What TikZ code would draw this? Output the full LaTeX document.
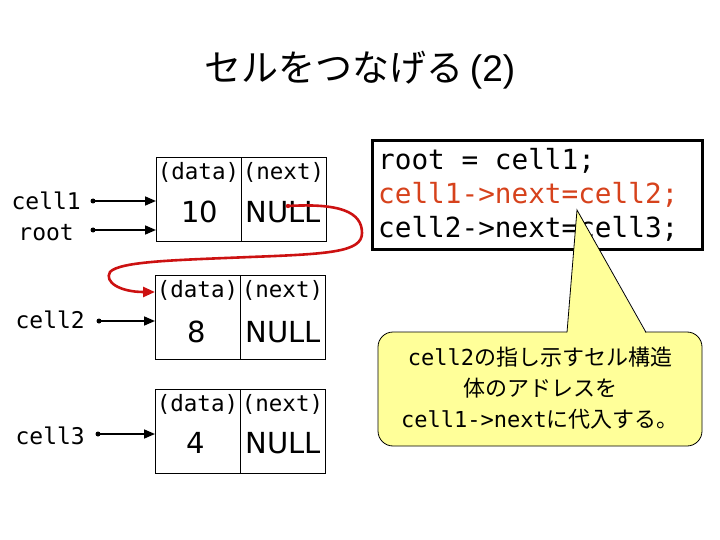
\documentclass[tikz,border=0pt]{standalone}
\usepackage{fontspec}
\setmonofont{DejaVu Sans Mono}
\newfontfamily\jp{Noto Sans CJK JP}
\newfontfamily\arial{Liberation Sans}
\newfontfamily\dvs{DejaVu Sans}
\usetikzlibrary{arrows.meta}
\definecolor{codered}{RGB}{214,66,28}
\definecolor{linkred}{RGB}{204,17,17}
\definecolor{noteyellow}{RGB}{255,255,153}
\tikzset{
  cellbox/.style={draw=black,line width=0.8pt,minimum width=85pt,minimum height=84pt,inner sep=0pt,anchor=north west},
  hdr/.style={font=\ttfamily\fontsize{22.5}{26}\selectfont,inner sep=0pt},
  val/.style={font=\dvs\fontsize{29}{34}\selectfont,inner sep=0pt},
  lbl/.style={font=\ttfamily\fontsize{23}{27}\selectfont,inner sep=0pt},
  ptr/.style={line width=1.6pt,-{Triangle[length=11pt,width=9pt]}},
  dotstart/.style={circle,fill=black,inner sep=0pt,minimum size=5pt},
  codeline/.style={font=\ttfamily\fontsize{27.7}{32}\selectfont,inner sep=0pt,anchor=west},
}
\begin{document}
\begin{tikzpicture}[x=1pt,y=-1pt]
\useasboundingbox (0,0) rectangle (720,540);
% title
\node[inner sep=0pt] (title) at (360,70) {\fontsize{37}{42}\selectfont{\jp セルをつなげる}\,{\arial (2)}};
% cell 1
\node[cellbox] (c1d) at (156,157) {};
\node[cellbox] (c1n) at (241,157) {};
\node[hdr] (c1dh) at (198.5,172) {(data)};
\node[hdr] (c1nh) at (283.5,172) {(next)};
\node[val] (c1dv) at (200,212) {10};
\node[val] (c1nv) at (283,212) {NULL};
% cell 2
\node[cellbox] (c2d) at (155,275) {};
\node[cellbox] (c2n) at (240,275) {};
\node[hdr] (c2dh) at (197.5,290) {(data)};
\node[hdr] (c2nh) at (282.5,290) {(next)};
\node[val] (c2dv) at (197,332) {8};
\node[val] (c2nv) at (283,332) {NULL};
% cell 3
\node[cellbox] (c3d) at (155,389) {};
\node[cellbox] (c3n) at (240,389) {};
\node[hdr] (c3dh) at (197.5,404) {(data)};
\node[hdr] (c3nh) at (282.5,404) {(next)};
\node[val] (c3dv) at (196,443) {4};
\node[val] (c3nv) at (283,443) {NULL};
% labels
\node[lbl,anchor=east] (l1) at (81,201) {cell1};
\node[lbl,anchor=east] (lr) at (74,233) {root};
\node[lbl,anchor=east] (l2) at (85,320) {cell2};
\node[lbl,anchor=east] (l3) at (85,436) {cell3};
% pointer dots
\node[dotstart] (p1) at (93,201) {};
\node[dotstart] (pr) at (93,230) {};
\node[dotstart] (p2) at (99,321) {};
\node[dotstart] (p3) at (98,434) {};
\draw[ptr] (p1.center) -- (p1.center -| c1d.west);
\draw[ptr] (pr.center) -- (pr.center -| c1d.west);
\draw[ptr] (p2.center) -- (p2.center -| c2d.west);
\draw[ptr] (p3.center) -- (p3.center -| c3d.west);
% red link
\coordinate (rs) at (288,206);
\coordinate (re) at (c2d.west |- 0,292);
\fill[linkred] (rs) circle (2.2);
\draw[linkred,line width=2.6pt,-{Triangle[length=12pt,width=10pt]}]
  (rs) .. controls (340,203) and (362,212) .. (362,233)
       .. controls (362,252) and (330,254) .. (250,257)
       .. controls (180,260) and (120,261) .. (110,272)
       .. controls (104,282) and (120,292) .. (re);
% code box
\node[draw=black,line width=3pt,minimum width=330pt,minimum height=109pt,anchor=north west,inner sep=0pt] (code) at (371,139) {};
\node[codeline] (cl1) at (378,161) {root = cell1;};
\node[codeline,text=codered] (cl2) at (378,195) {cell1->next=cell2;};
\node[codeline] (cl3) at (378,229) {cell2->next=cell3;};
% callout
\draw[fill=noteyellow,line width=0.8pt,rounded corners=15pt] (378,332) rectangle (702,446);
\fill[noteyellow] (567,334) -- (577,210) -- (646,334) -- cycle;
\draw[line width=0.8pt] (567,332.4) -- (577,210) -- (646,332.4);
\node[align=center,inner sep=0pt,font=\fontsize{22}{31}\selectfont] (note) at (540,388)
 {{\ttfamily cell2}{\jp の指し示すセル構造}\\{\jp 体のアドレスを}\\{\ttfamily cell1->next}{\jp に代入する。}};
\end{tikzpicture}
\end{document}
